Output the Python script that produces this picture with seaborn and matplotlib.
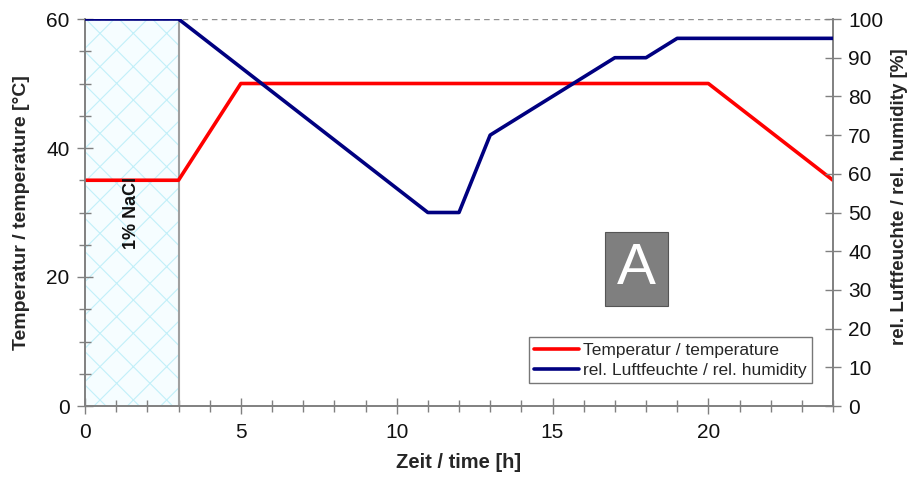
import matplotlib
matplotlib.use("Agg")
import matplotlib.pyplot as plt
from matplotlib.ticker import MultipleLocator
from matplotlib.patches import Rectangle
import pandas as pd
import seaborn as sns

# Test cycle profile
temp_time = [0, 3, 5, 20, 24]
temp_values = [35, 35, 50, 50, 35]
hum_time = [0, 3, 11, 12, 13, 17, 18, 19, 24]
hum_values = [100, 100, 50, 50, 70, 90, 90, 95, 95]
salt_phase = [0, 3]
salt_label = "1% NaCl"
panel_label = "A"

sns.set_theme(style="white")
plt.rcParams["font.family"] = ["Liberation Sans", "DejaVu Sans"]
plt.rcParams["hatch.linewidth"] = 0.8

temp_df = pd.DataFrame({"time": temp_time, "value": temp_values})
hum_df = pd.DataFrame({"time": hum_time, "value": hum_values})

fig = plt.figure(figsize=(9.17, 4.87), dpi=100)
ax = fig.add_axes([85 / 917, 1 - 406 / 487, (833 - 85) / 917, (406 - 19) / 487])
ax2 = ax.twinx()

# salt spray phase
ax.add_patch(Rectangle((salt_phase[0], 0), salt_phase[1] - salt_phase[0], 60,
                       facecolor="#f6fdff", edgecolor="#c2f0f9", hatch="x",
                       linewidth=0, zorder=0))
ax.axvline(salt_phase[1], color="#a0a0a0", lw=1.5, zorder=1)
ax.text(1.5, 30, salt_label, rotation=90, ha="center", va="center",
        fontsize=13, fontweight="bold", color="#111111", zorder=5)

# top reference line
ax.axhline(60, color="#909090", lw=1, ls=(0, (4, 3)), zorder=1)

sns.lineplot(data=temp_df, x="time", y="value", ax=ax, color="#ff0000",
             lw=2.6, label="Temperatur / temperature", legend=False, zorder=4)
sns.lineplot(data=hum_df, x="time", y="value", ax=ax2, color="#000080",
             lw=2.6, label="rel. Luftfeuchte / rel. humidity", legend=False, zorder=4)

ax.set_xlim(0, 24)
ax.set_ylim(0, 60)
ax2.set_ylim(0, 100)

ax.xaxis.set_major_locator(MultipleLocator(5))
ax.xaxis.set_minor_locator(MultipleLocator(1))
ax.yaxis.set_major_locator(MultipleLocator(20))
ax.yaxis.set_minor_locator(MultipleLocator(5))
ax2.yaxis.set_major_locator(MultipleLocator(10))

for a in (ax, ax2):
    for s in a.spines.values():
        s.set_color("#808080")
        s.set_linewidth(1.2)
    a.spines["top"].set_visible(False)
    a.tick_params(which="both", direction="inout", color="#808080",
                  labelsize=15, labelcolor="#111111")
    a.tick_params(which="major", length=12, width=1)
    a.tick_params(which="minor", length=8, width=1)
ax.tick_params(axis="x", which="both", bottom=True, pad=6)
ax.tick_params(axis="y", which="both", left=True, pad=5)
ax2.tick_params(axis="y", which="both", right=True, pad=5)

ax.set_xlabel("Zeit / time [h]", fontsize=14.5, fontweight="bold", labelpad=8)
ax.set_ylabel("Temperatur / temperature [°C]", fontsize=14, fontweight="bold", labelpad=12)
ax2.set_ylabel("rel. Luftfeuchte / rel. humidity [%]", fontsize=13.5, fontweight="bold")
ax2.yaxis.set_label_coords(1.078, 0.54)

# panel marker
ax.add_patch(Rectangle((16.67, 15.5), 2.02, 11.5, facecolor="#7f7f7f",
                       edgecolor="#555555", linewidth=0.8, zorder=6))
ax.text(17.68, 21.2, panel_label, ha="center", va="center", fontsize=42,
        color="white", zorder=7)

handles = [ax.get_lines()[-1], ax2.get_lines()[-1]]
leg = ax.legend(handles=handles, loc="lower right", bbox_to_anchor=(0.972, 0.059),
                fontsize=12.5, frameon=True, fancybox=False, handlelength=2.6,
                handletextpad=0.25, borderpad=0.3, labelspacing=0.3, borderaxespad=0)
leg.get_frame().set_edgecolor("#555555")
leg.get_frame().set_linewidth(1)
leg.set_zorder(10)

fig.savefig("out.png", dpi=100)
